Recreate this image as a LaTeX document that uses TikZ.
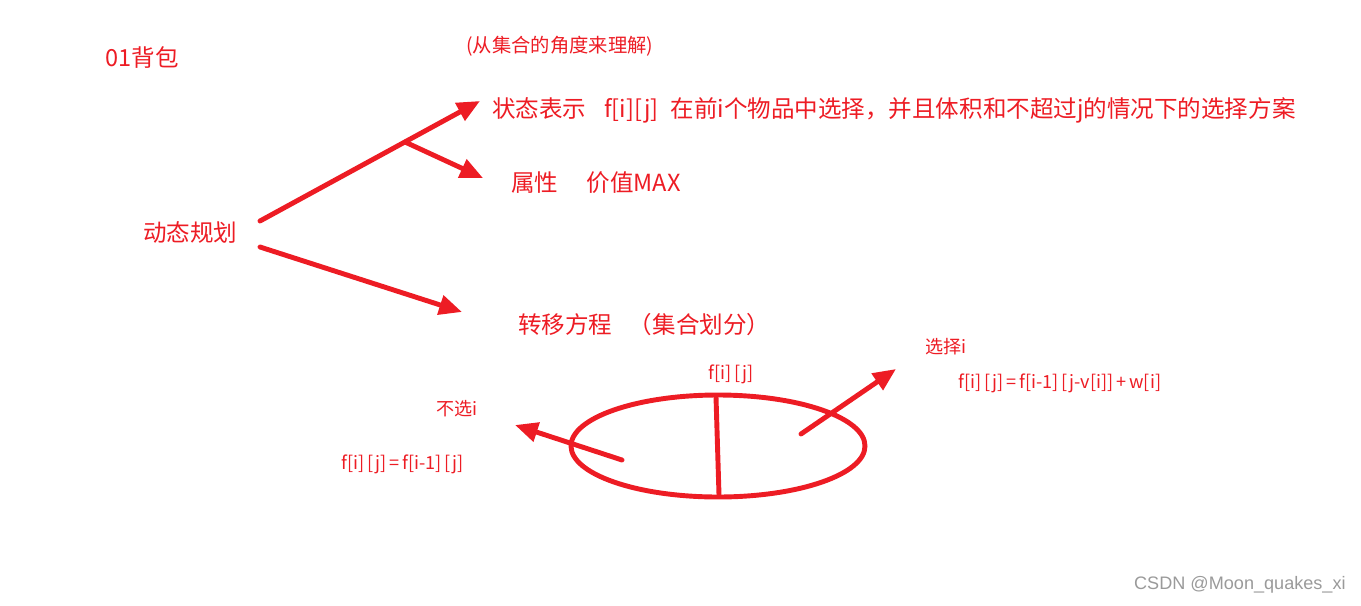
\documentclass[tikz,border=0pt]{standalone}
\usepackage{fontspec}
\setmainfont{Noto Sans CJK SC}
\newfontfamily\stampfont{Liberation Sans}
\usepackage{tikz}
\usetikzlibrary{arrows.meta}
\definecolor{pen}{HTML}{ED1C24}
\definecolor{stampgray}{HTML}{9A9A9A}

\tikzset{
  bigtext/.style={pen, anchor=west, inner sep=0pt, font=\fontsize{13.4}{16}\selectfont},
  smalltext/.style={pen, anchor=west, inner sep=0pt, font=\fontsize{10.3}{12}\selectfont},
  stroke/.style={pen, line width=2.8pt, line cap=round},
  arrowline/.style={stroke, -{Triangle[length=13pt, width=11pt]}}
}

\begin{document}
\begin{tikzpicture}[x=0.02cm, y=-0.02cm]
  \useasboundingbox (0,0) rectangle (1361,605);

  % --- Titles ---
  \node[bigtext] (title) at (105,58) {01背包};
  \node[smalltext, font=\fontsize{11}{13}\selectfont] (hint) at (466,46) {(从集合的角度来理解)};

  % --- Main branches ---
  \node[bigtext] (dp) at (143,232) {动态规划};
  \node[bigtext] (state) at (492,110)
    {状态表示\hspace{0.75em}f[i][j]\hspace{0.5em}在前i个物品中选择，并且体积和不超过j的情况下的选择方案};
  \node[bigtext] (attr) at (511,183) {属性\hspace{1.2em}价值MAX};
  \node[bigtext] (trans) at (518,325) {转移方程\hspace{0.7em}（集合划分）};

  \coordinate (up0) at (260,221);
  \coordinate (up1) at (480,101);
  \coordinate (fork) at (405,142);
  \coordinate (mid1) at (483,178);
  \coordinate (dn0) at (260,247);
  \coordinate (dn1) at (462,312);
  \draw[arrowline] (up0) -- (up1);
  \draw[arrowline] (fork) -- (mid1);
  \draw[arrowline] (dn0) -- (dn1);

  % --- Set partition ---
  \coordinate (ctr) at (718,446);
  \draw[stroke] (ctr) ellipse (147 and 51);
  \coordinate (cut0) at (716,397);
  \coordinate (cut1) at (719,495);
  \draw[stroke] (cut0) -- (cut1);
  \node[smalltext, anchor=center] (fij) at (731,374) {f[i]\,[j]};

  % left part: not taking i
  \coordinate (lf0) at (622,460);
  \coordinate (lf1) at (515,425);
  \draw[arrowline] (lf0) -- (lf1);
  \node[smalltext] (skip) at (436,409) {不选i};
  \node[smalltext] (skipeq) at (341,464) {f[i]\,[j]\,=\,f[i-1]\,[j]};

  % right part: taking i
  \coordinate (rt0) at (801,434);
  \coordinate (rt1) at (896,369);
  \draw[arrowline] (rt0) -- (rt1);
  \node[smalltext] (take) at (925,347) {选择i};
  \node[smalltext] (takeeq) at (958,383) {f[i]\,[j]\,=\,f[i-1]\,[j-v[i]]\,+\,w[i]};

  % --- Watermark ---
  \node[stampgray, anchor=east, inner sep=0pt, font=\stampfont\fontsize{10.3}{12}\selectfont]
    (wm) at (1346,585) {CSDN @Moon\_quakes\_xi};
\end{tikzpicture}
\end{document}
